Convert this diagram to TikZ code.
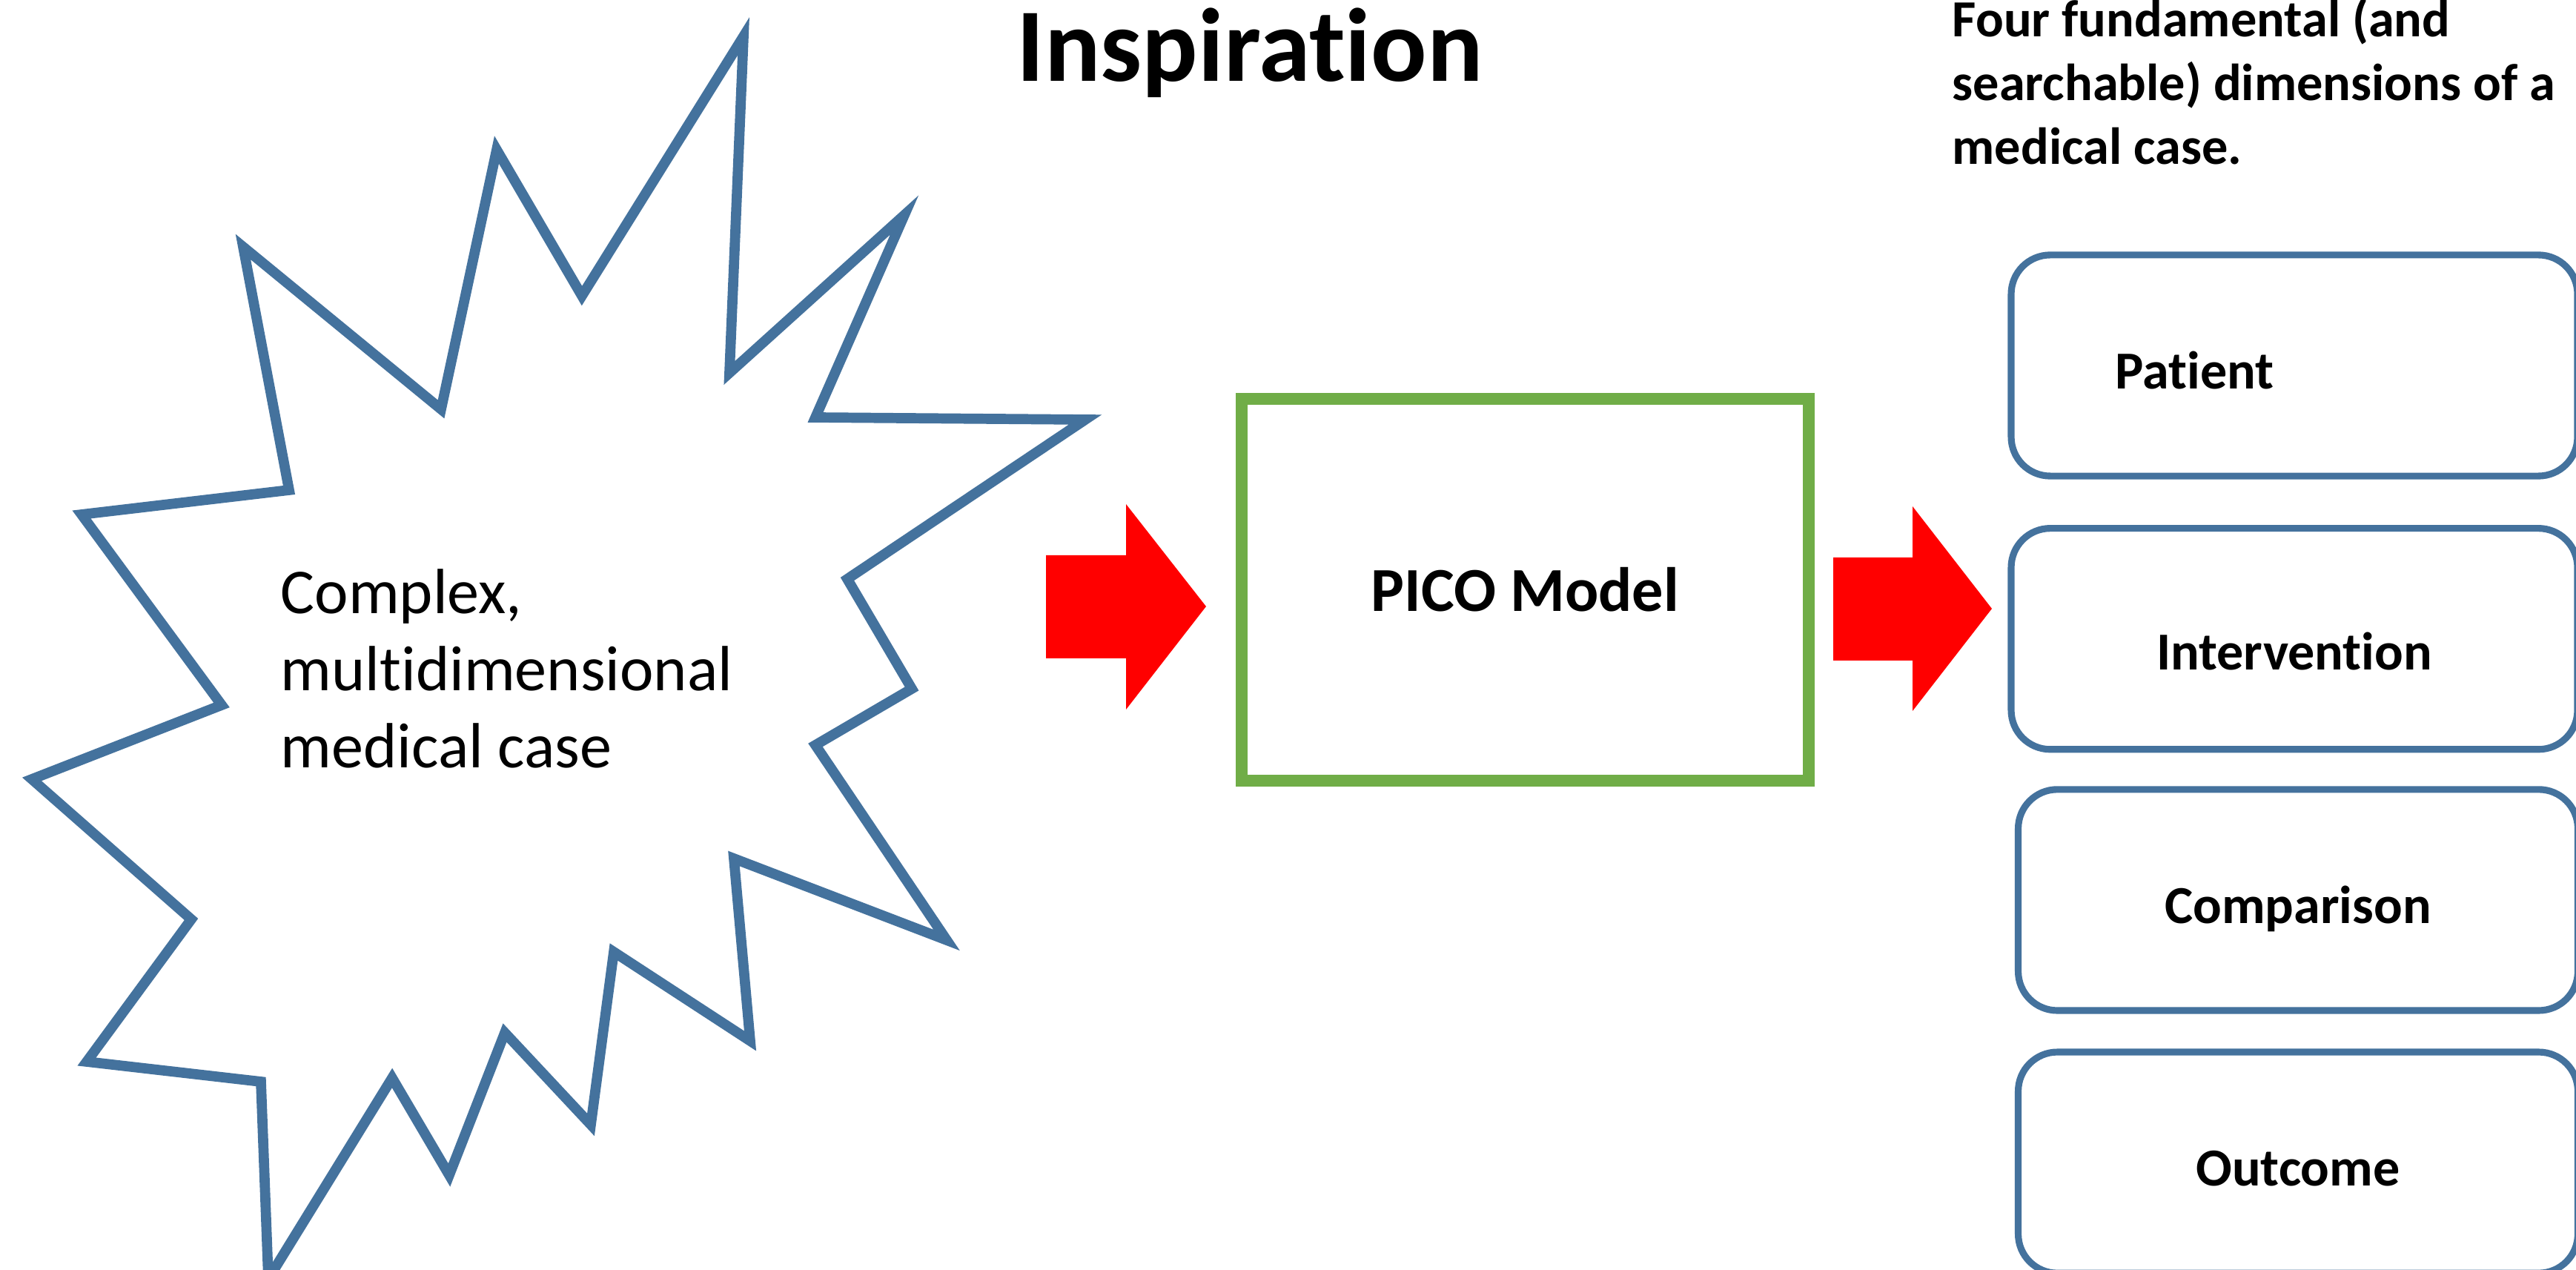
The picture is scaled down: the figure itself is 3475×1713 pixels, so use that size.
\documentclass[tikz,border=0pt]{standalone}
\usepackage{fontspec}
\setmainfont[Ligatures=NoCommon]{Carlito}
\usetikzlibrary{positioning}

\definecolor{caseblue}{RGB}{68,114,157}
\definecolor{picogreen}{RGB}{112,173,71}

\begin{document}
\begin{tikzpicture}[x=0.01cm, y=-0.01cm,
    dim/.style = {draw=caseblue, line width=2.6pt, rounded corners=15pt, minimum height=2.98cm, inner sep=0pt, outer sep=0pt,
                  text height=18pt, text depth=0pt, font=\fontsize{20.5}{24.6}\selectfont\bfseries},
    pico/.style = {draw=picogreen, line width=4.55pt, minimum width=7.65cm, minimum height=5.15cm,
                   font=\fontsize{24}{29}\selectfont\bfseries},
    bigarrow/.style = {fill=red}]
    \useasboundingbox (0,0) rectangle (3475,1713);
    \clip (0,0) rectangle (3475,1713);

    % the case
    \draw[caseblue, line width=3.9pt] plot coordinates {
        (1003,49) (984,503) (1220,290) (1100,563) (1464,566) (1143,781) (1230,929) (1100,1005)
        (1277,1268) (990,1158) (1012,1404) (828,1284) (797,1517) (681,1393) (606,1585) (529,1454)
        (362,1725) (352,1459) (117,1432) (258,1240) (43,1051) (299,951) (110,694) (390,661)
        (328,333) (595,552) (670,202) (785,399)} -- cycle;
    \node[anchor=base west, align=left, inner sep=0pt, font=\fontsize{24.5}{29.6}\selectfont] (case) at (378,1036)
        {Complex,\\multidimensional\\medical case};

    \node[font=\fontsize{40}{48}\selectfont\bfseries, anchor=base] (title) at (1686,110) {Inspiration};
    \node[font=\fontsize{20}{24.5}\selectfont\bfseries, anchor=base west, align=left, inner sep=0pt] (note) at (2633,222)
        {Four fundamental (and\\searchable) dimensions of a\\medical case.};

    \node[pico] (pico) at (2057.5,795.5) {PICO Model};

    % block arrows
    \fill[bigarrow] (1411,749) -- (1519,749) -- (1519,680) -- (1627,818) -- (1519,957) -- (1519,888) -- (1411,888) -- cycle;
    \fill[bigarrow] (2473,752) -- (2580,752) -- (2580,683) -- (2687,821) -- (2580,959) -- (2580,891) -- (2473,891) -- cycle;

    % PICO dimensions
    \node[dim, minimum width=7.635cm, text width=4.82cm, align=left] (patient) at (3095,493) {Patient};
    \node[dim, minimum width=7.635cm, text height=24pt] (interv) [below=0.705cm of patient] {Intervention};
    \node[dim, minimum width=7.545cm] (compar) [below=0.54cm of interv, xshift=0.05cm] {Comparison};
    \node[dim, minimum width=7.545cm] (outcome) [below=0.56cm of compar] {Outcome};
\end{tikzpicture}
\end{document}
